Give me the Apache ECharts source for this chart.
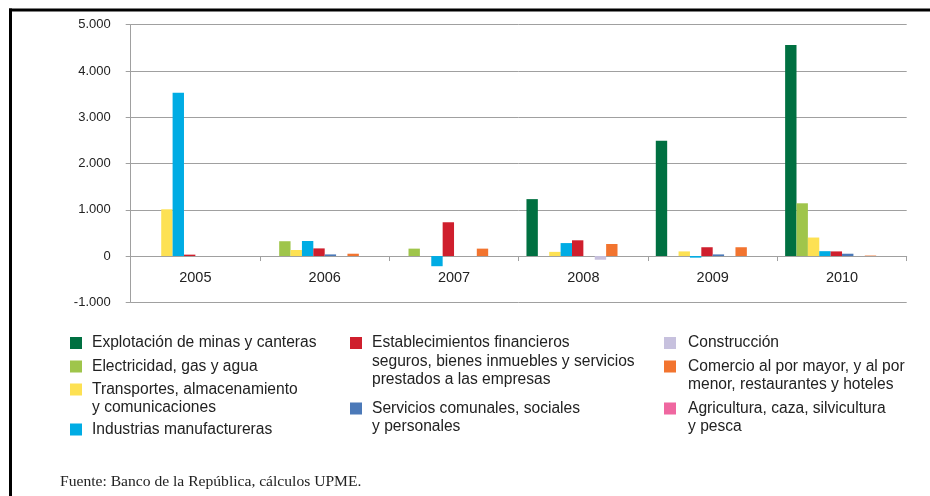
<!DOCTYPE html>
<html>
<head>
<meta charset="utf-8">
<script src="https://cdn.jsdelivr.net/npm/echarts@6/dist/echarts.min.js"></script>
<style>
  html, body { margin: 0; padding: 0; background: #fff; }
  #chart { width: 930px; height: 496px; }
</style>
</head>
<body>
<div id="chart"></div>
<script>
// años (categorías)
const years = ['2005', '2006', '2007', '2008', '2009', '2010'];

// nombres de los sectores, tal cual en la leyenda (con saltos de línea)
const sectorNames = [
    'Explotación de minas y canteras',
    'Electricidad, gas y agua',
    'Transportes, almacenamiento\ny comunicaciones',
    'Industrias manufactureras',
    'Establecimientos financieros\nseguros, bienes inmuebles y servicios\nprestados a las empresas',
    'Servicios comunales, sociales\ny personales',
    'Construcción',
    'Comercio al por mayor, y al por\nmenor, restaurantes y hoteles',
    'Agricultura, caza, silvicultura\ny pesca'
];

// valores por sector, 2005..2010
const minas        = [0, 0, 0, 1230, 2490, 4560];
const electricidad = [0, 320, 160, 0, 0, 1140];
const transportes  = [1010, 130, 0, 90, 100, 400];
const industrias   = [3530, 325, -220, 280, -35, 105];
const financieros  = [30, 165, 730, 340, 190, 100];
const servicios    = [0, 35, 0, 0, 35, 50];
const construccion = [0, 0, 0, -80, 0, 0];
const comercio     = [0, 50, 160, 260, 190, 10];
const agricultura  = [0, 0, 0, 0, 0, 0];

const sectorValues = [minas, electricidad, transportes, industrias, financieros,
    servicios, construccion, comercio, agricultura];

// ticks eje y
const yMin = -1000, yMax = 5000, yStep = 1000;

const colors = ['#007041', '#9fc54b', '#fde153', '#00ace4', '#cf1f2d',
    '#4b79b8', '#c7c1de', '#f2742f', '#ef67a0'];

// posición de cada entrada de la leyenda: [x icono, centro y icono, separación texto]
const legendPos = [
    [70, 343, 5], [70, 366.5, 5], [70, 389.5, 5], [70, 429.5, 5],
    [350, 343, 5], [350, 408.5, 5],
    [664, 343, 7], [664, 366.5, 7], [664, 408.5, 7]
];

const FONT = "'Liberation Sans', Arial, Helvetica, sans-serif";
const LINE_H = 18.5;

const fmtMiles = (v) => {
    const s = String(Math.abs(v)).replace(/\B(?=(\d{3})+(?!\d))/g, '.');
    return (v < 0 ? '-' : '') + s;
};

const series = sectorNames.map((name, i) => ({
    name: name,
    type: 'bar',
    data: sectorValues[i],
    barGap: '0%',
    barCategoryGap: '12%',
    itemStyle: { color: colors[i] },
    silent: true
}));
// hueco vacío al final de cada grupo (como en el original)
series.push({ name: '_vacio', type: 'bar', data: years.map(() => null), silent: true });

// icono cuadrado arriba del item, alto total = alto del texto (así queda junto a la 1a línea)
const squareIcon = (h) => {
    const y0 = (LINE_H - 12) / 2;
    return `path://M0,0L0,0.01M0,${h}L0,${h - 0.01}M0,${y0}H12V${y0 + 12}H0Z`;
};

const legends = sectorNames.map((name, i) => {
    const [x, cy, gap] = legendPos[i];
    const h = name.split('\n').length * LINE_H;
    return {
        data: [{ name: name, icon: squareIcon(h) }],
        left: x,
        top: cy - LINE_H / 2,
        padding: 0,
        orient: 'vertical',
        itemWidth: 12,
        itemHeight: h,
        symbolKeepAspect: true,
        itemStyle: { borderWidth: 0 },
        selectedMode: false,
        textStyle: { fontFamily: FONT, fontSize: 15.6, color: '#222', lineHeight: LINE_H, padding: [0, 0, 0, gap] }
    };
});

const chart = echarts.init(document.getElementById('chart'), null, { renderer: 'canvas' });

chart.setOption({
    animation: false,
    backgroundColor: '#fff',
    title: {
        text: 'Fuente: Banco de la República, cálculos UPME.',
        left: 60,
        top: 474,
        padding: 0,
        textStyle: { fontFamily: "'Liberation Serif', 'Times New Roman', serif", fontSize: 15.6, fontWeight: 'normal', color: '#222' }
    },
    grid: { left: 130.7, right: 23.3, top: 24.7, bottom: 193.7, containLabel: false },
    legend: legends,
    xAxis: {
        type: 'category',
        data: years,
        axisLine: { onZero: true, lineStyle: { color: '#a0a0a0', width: 1 } },
        axisTick: { show: true, length: 5, lineStyle: { color: '#a0a0a0' } },
        // las etiquetas quedan abajo del grid, se suben hasta el 0
        axisLabel: { fontFamily: FONT, fontSize: 14.5, color: '#222', margin: -32 },
        splitLine: { show: false }
    },
    yAxis: {
        type: 'value',
        min: yMin,
        max: yMax,
        interval: yStep,
        axisLine: { show: true, lineStyle: { color: '#a0a0a0', width: 1 } },
        axisTick: { show: true, length: 5, lineStyle: { color: '#a0a0a0' } },
        axisLabel: { fontFamily: FONT, fontSize: 13, color: '#222', margin: 20, formatter: fmtMiles },
        splitLine: { show: true, lineStyle: { color: '#a0a0a0', width: 1 } }
    },
    series: series,
    graphic: [
        { type: 'line', shape: { x1: 9, y1: 10, x2: 930, y2: 10 }, style: { stroke: '#000', lineWidth: 3 } },
        { type: 'line', shape: { x1: 10.5, y1: 8.5, x2: 10.5, y2: 496 }, style: { stroke: '#000', lineWidth: 3 } }
    ]
});
</script>
</body>
</html>
